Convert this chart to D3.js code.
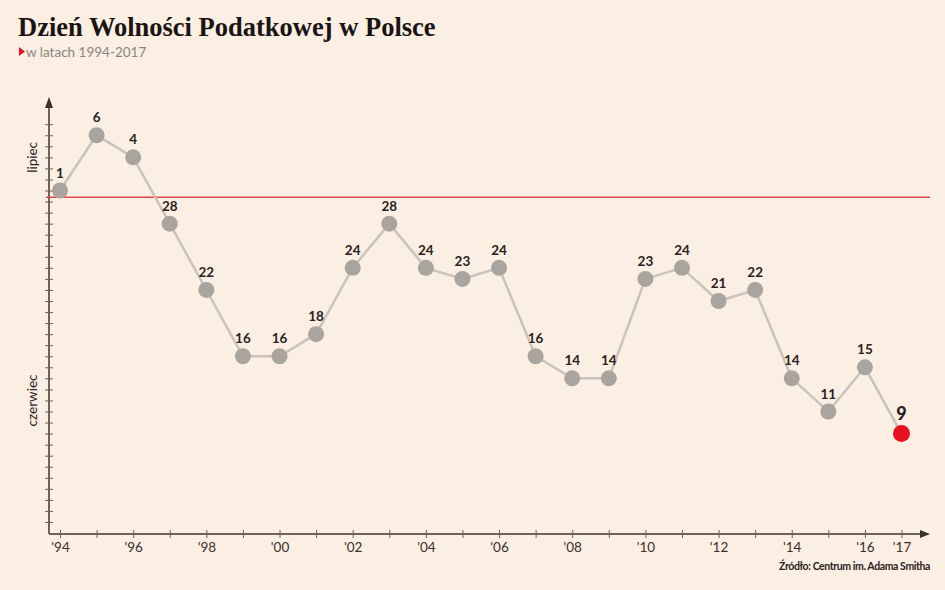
<!DOCTYPE html>
<html>
<head>
<meta charset="utf-8">
<script src="https://cdn.jsdelivr.net/npm/d3@7"></script>
<style>
  body { margin: 0; background: #fbeee2; }
  svg { display: block; }
  .title { font-family: "Liberation Serif", serif; font-weight: bold; font-size: 26.5px; fill: #1a1414; }
  .subtitle { font-family: Lato, sans-serif; font-size: 13.5px; fill: #8a8580; }
  .axis path, .axis line { stroke: #6e6259; }
  .axis text { font-family: Lato, sans-serif; font-size: 13.5px; fill: #3a302c; }
  .pointLabel { font-family: Lato, sans-serif; font-size: 13.5px; font-weight: bold; fill: #2a2220; text-anchor: middle; }
  .monthLabel { font-family: Lato, sans-serif; font-size: 13.5px; fill: #2a2220; text-anchor: middle; }
  .source { font-family: Lato, sans-serif; font-size: 10.5px; font-weight: bold; fill: #2a2220; letter-spacing: -0.4px; }
</style>
</head>
<body>
<script>
// years and the day of the tax freedom day
const years = [1994, 1995, 1996, 1997, 1998, 1999, 2000, 2001, 2002, 2003, 2004, 2005,
               2006, 2007, 2008, 2009, 2010, 2011, 2012, 2013, 2014, 2015, 2016, 2017];
const months = ["lipiec", "lipiec", "lipiec", "czerwiec", "czerwiec", "czerwiec", "czerwiec", "czerwiec",
                "czerwiec", "czerwiec", "czerwiec", "czerwiec", "czerwiec", "czerwiec", "czerwiec", "czerwiec",
                "czerwiec", "czerwiec", "czerwiec", "czerwiec", "czerwiec", "czerwiec", "czerwiec", "czerwiec"];
const days = [1, 6, 4, 28, 22, 16, 16, 18, 24, 28, 24, 23, 24, 16, 14, 14, 23, 24, 21, 22, 14, 11, 15, 9];
const yearTicks = [1994, 1996, 1998, 2000, 2002, 2004, 2006, 2008, 2010, 2012, 2014, 2016, 2017];
const monthNames = ["czerwiec", "lipiec"];
const juneLength = 30;

// day counted from 1 June
function dayIndex(i) {
  return months[i] === "lipiec" ? juneLength + days[i] : days[i];
}

let width = 945, height = 590;

let svg = d3.select("body").append("svg")
  .attr("width", width)
  .attr("height", height);

// title
svg.append("text")
  .attr("class", "title")
  .attr("x", 18)
  .attr("y", 36)
  .text("Dzień Wolności Podatkowej w Polsce");

svg.append("path")
  .attr("d", "M19,47 L25,51.5 L19,56 Z")
  .attr("fill", "#e3131f");

svg.append("text")
  .attr("class", "subtitle")
  .attr("x", 26)
  .attr("y", 57)
  .text("w latach 1994-2017");

let xScale = d3.scaleLinear()
  .domain([1994, 2017])
  .range([60, 901.5]);

let yScale = d3.scaleLinear()
  .domain([juneLength + 1, 1])
  .range([190.5, 522]);

let axisX = 49, axisY = 534;

// y axis
svg.append("line")
  .attr("x1", axisX).attr("x2", axisX)
  .attr("y1", axisY).attr("y2", 106)
  .attr("stroke", "#6e6259").attr("stroke-width", 2);
svg.append("path")
  .attr("d", `M${axisX - 4},${108} L${axisX},${97} L${axisX + 4},${108} Z`)
  .attr("fill", "#3a302c");

let yTicks = d3.range(1, juneLength + 8);
svg.append("g")
  .attr("class", "axis")
  .attr("transform", "translate(" + (axisX + 4) + ",0)")
  .call(d3.axisLeft(yScale).tickValues(yTicks).tickSize(8).tickFormat(""))
  .call(g => g.select(".domain").remove());

// x axis
svg.append("line")
  .attr("x1", axisX).attr("x2", 922)
  .attr("y1", axisY).attr("y2", axisY)
  .attr("stroke", "#6e6259").attr("stroke-width", 2);
svg.append("path")
  .attr("d", `M${920},${axisY - 4} L${930},${axisY} L${920},${axisY + 4} Z`)
  .attr("fill", "#3a302c");

svg.append("g")
  .attr("class", "axis")
  .attr("transform", "translate(0," + (axisY + 4) + ")")
  .call(d3.axisTop(xScale).tickValues(years).tickSize(8).tickFormat(""))
  .call(g => g.select(".domain").remove());

svg.append("g")
  .attr("class", "axis")
  .attr("transform", "translate(0," + axisY + ")")
  .call(d3.axisBottom(xScale).tickValues(yearTicks).tickSize(0).tickPadding(8)
    .tickFormat(d => "'" + String(d).slice(2)))
  .call(g => g.select(".domain").remove());

// month labels
svg.append("text")
  .attr("class", "monthLabel")
  .attr("transform", "translate(37," + yScale(juneLength + 4) + ") rotate(-90)")
  .text(monthNames[1]);
svg.append("text")
  .attr("class", "monthLabel")
  .attr("transform", "translate(37," + yScale(12) + ") rotate(-90)")
  .text(monthNames[0]);

// red line between June and July
svg.append("line")
  .attr("x1", axisX - 3).attr("x2", 930)
  .attr("y1", yScale(juneLength + 0.4)).attr("y2", yScale(juneLength + 0.4))
  .attr("stroke", "#e0464b").attr("stroke-width", 1.5);

// line
let line = d3.line()
  .x((d, i) => xScale(years[i]))
  .y((d, i) => yScale(dayIndex(i)));

svg.append("path")
  .datum(days)
  .attr("d", line)
  .attr("fill", "none")
  .attr("stroke", "#c9c3bb")
  .attr("stroke-width", 2.5);

// dots
let last = days.length - 1;
svg.selectAll(".dot")
  .data(days)
  .enter().append("circle")
  .attr("class", "dot")
  .attr("cx", (d, i) => xScale(years[i]))
  .attr("cy", (d, i) => yScale(dayIndex(i)))
  .attr("r", (d, i) => i === last ? 8.5 : 8)
  .attr("fill", (d, i) => i === last ? "#e8101c" : "#a9a49e");

// labels
svg.selectAll(".pointLabel")
  .data(days)
  .enter().append("text")
  .attr("class", "pointLabel")
  .attr("x", (d, i) => xScale(years[i]))
  .attr("y", (d, i) => yScale(dayIndex(i)) - (i === last ? 14 : 13))
  .style("font-size", (d, i) => i === last ? "18px" : null)
  .style("font-weight", (d, i) => i === last ? 900 : null)
  .text(d => d);

// source
svg.append("text")
  .attr("class", "source")
  .attr("x", 930)
  .attr("y", 570)
  .attr("text-anchor", "end")
  .text("Źródło: Centrum im. Adama Smitha");
</script>
</body>
</html>
